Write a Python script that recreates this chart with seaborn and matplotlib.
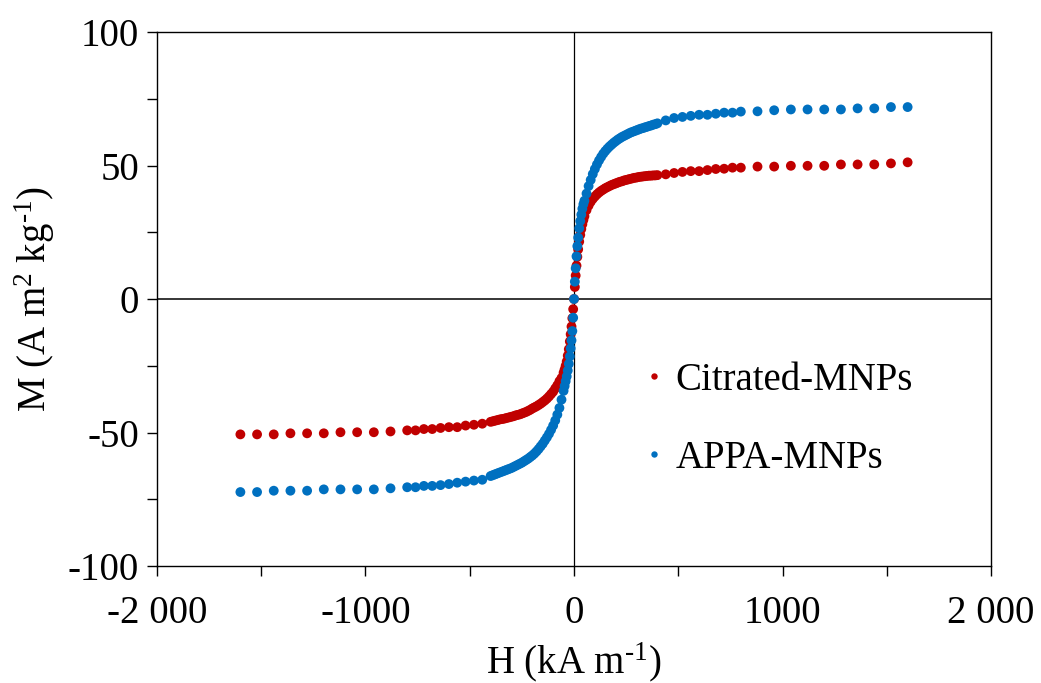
import numpy as np
import pandas as pd
import matplotlib
matplotlib.use("Agg")
import matplotlib.pyplot as plt
import seaborn as sns

# Field magnitudes (kA m-1), same for both branches
h_field = [0, 4, 8, 12, 16, 20, 25, 30, 35, 40, 45, 50, 60, 70, 80, 90, 100,
           110, 120, 130, 140, 150, 160, 170, 180, 190, 200, 210, 220, 230, 240,
           250, 260, 270, 280, 290, 300, 310, 320, 330, 340, 350, 360, 370, 380,
           390, 400, 440, 480, 520, 560, 600, 640, 680, 720, 760, 800, 880, 960,
           1040, 1120, 1200, 1280, 1360, 1440, 1520, 1600]

# Magnetization (A m2 kg-1) at +H
citrated_pos = [0, 4.5, 8.8, 12.5, 15.8, 18.6, 21.5, 24.0, 26.2, 28.0, 29.6, 31.0,
                33.3, 35.0, 36.4, 37.5, 38.4, 39.2, 39.9, 40.5, 41.0, 41.5, 41.9,
                42.3, 42.7, 43.0, 43.3, 43.6, 43.9, 44.1, 44.4, 44.6, 44.8, 45.0,
                45.2, 45.4, 45.5, 45.7, 45.8, 45.9, 46.0, 46.1, 46.2, 46.2, 46.3,
                46.3, 46.4, 46.7, 47.2, 47.6, 47.9, 47.9, 48.3, 48.7, 48.8, 49.2,
                49.2, 49.6, 49.6, 49.9, 49.9, 49.9, 50.4, 50.4, 50.4, 50.8, 51.2]
# Magnetization magnitude at -H
citrated_neg = [0, 3.8, 7.2, 10.3, 13.2, 15.9, 18.8, 21.2, 23.4, 25.0, 26.4, 27.6,
                29.6, 30.8, 32.3, 33.5, 34.7, 35.6, 36.5, 37.3, 38.0, 38.6, 39.2,
                39.7, 40.2, 40.6, 41.0, 41.5, 41.9, 42.3, 42.6, 42.9, 43.2, 43.4,
                43.6, 43.9, 44.1, 44.3, 44.5, 44.7, 44.9, 45.0, 45.2, 45.4, 45.6,
                45.8, 46.0, 46.7, 47.1, 47.4, 48.0, 48.0, 48.3, 48.7, 48.7, 49.2,
                49.2, 49.6, 49.9, 49.9, 49.9, 50.3, 50.3, 50.3, 50.7, 50.7, 50.7]

appa_pos = [0, 6.5, 11.5, 16.0, 19.8, 23.0, 26.5, 29.2, 31.6, 33.8, 35.5, 36.8,
            39.5, 42.3, 44.6, 46.8, 48.7, 50.4, 51.9, 53.2, 54.4, 55.4, 56.3,
            57.1, 57.8, 58.5, 59.1, 59.7, 60.2, 60.7, 61.1, 61.5, 61.9, 62.3,
            62.6, 62.9, 63.2, 63.5, 63.8, 64.0, 64.3, 64.5, 64.8, 65.0, 65.3,
            65.5, 65.8, 66.9, 67.8, 68.2, 68.6, 69.0, 69.0, 69.4, 69.8, 69.8,
            70.2, 70.3, 70.7, 71.0, 71.0, 71.0, 71.0, 71.4, 71.4, 71.9, 71.9]
appa_neg = [0, 7.0, 12.0, 15.5, 18.5, 21.5, 24.3, 26.8, 29.0, 30.8, 32.6, 34.4,
            37.7, 40.8, 43.3, 45.5, 47.4, 49.0, 50.5, 51.8, 53.0, 54.2, 55.2,
            56.2, 57.1, 57.9, 58.6, 59.2, 59.8, 60.3, 60.8, 61.3, 61.7, 62.1,
            62.5, 62.9, 63.3, 63.6, 63.9, 64.2, 64.5, 64.8, 65.1, 65.4, 65.7,
            66.0, 66.3, 67.7, 68.0, 68.4, 68.8, 69.3, 69.7, 70.0, 70.0, 70.5,
            70.5, 70.9, 71.3, 71.3, 71.3, 71.3, 71.8, 71.8, 71.8, 72.3, 72.3]

series_names = ["Citrated-MNPs", "APPA-MNPs"]
colors = ["#C00000", "#0070C0"]
x_ticks = [-2000, -1500, -1000, -500, 0, 500, 1000, 1500, 2000]
x_labels = ["-2 000", "", "-1000", "", "0", "", "1000", "", "2 000"]
y_ticks = [-100, -75, -50, -25, 0, 25, 50, 75, 100]
y_labels = ["-100", "", "-50", "", "0", "", "50", "", "100"]

rows = []
for name, pos, neg in [(series_names[0], citrated_pos, citrated_neg),
                       (series_names[1], appa_pos, appa_neg)]:
    for h, m in zip(h_field[::-1], neg[::-1]):
        if h > 0:
            rows.append((-h, -m, name))
    for h, m in zip(h_field, pos):
        rows.append((h, m, name))
df = pd.DataFrame(rows, columns=["H", "M", "series"])

sns.set_style("ticks")
plt.rcParams["font.family"] = ["Liberation Serif", "DejaVu Serif"]
plt.rcParams["mathtext.fontset"] = "custom"
plt.rcParams["mathtext.rm"] = "Liberation Serif"
plt.rcParams["mathtext.it"] = "Liberation Serif:italic"
plt.rcParams["text.color"] = "black"
plt.rcParams["axes.labelcolor"] = "black"

fig = plt.figure(figsize=(10.41, 6.83), dpi=100)
ax = fig.add_axes([0.1508, 0.1713, 0.8012, 0.7818])

ax.axhline(0, color="black", lw=1.1, zorder=1)
ax.axvline(0, color="black", lw=0.9, zorder=1)

sns.scatterplot(data=df, x="H", y="M", hue="series", hue_order=series_names,
                palette=colors, s=50, linewidth=0, edgecolor="none", ax=ax,
                zorder=3, legend=True)

ax.set_xlim(-2000, 2000)
ax.set_ylim(-100, 100)
ax.set_xticks(x_ticks)
ax.set_xticklabels(x_labels)
ax.set_yticks(y_ticks)
ax.set_yticklabels(y_labels)
ax.tick_params(axis="both", direction="out", length=7, width=1.0, color="black",
               labelsize=28, labelcolor="black")
ax.tick_params(axis="x", pad=14)
ax.tick_params(axis="y", pad=6)
for sp in ax.spines.values():
    sp.set_visible(True)
    sp.set_color("black")
    sp.set_linewidth(1.0)

ax.set_xlabel("H (kA m$^{\u20101}$)", fontsize=28, labelpad=6, color="black")
ax.set_ylabel("M (A m$^{2}$ kg$^{\u20101}$)", fontsize=28, labelpad=8, color="black")

handles, labels = ax.get_legend_handles_labels()
ax.legend(handles, labels, loc="center left", bbox_to_anchor=(0.54, 0.275),
          frameon=False, fontsize=28, markerscale=0.65, handletextpad=0.05,
          labelspacing=1.05, handlelength=1.0, borderpad=0.2)

fig.savefig("out.png", dpi=100)
